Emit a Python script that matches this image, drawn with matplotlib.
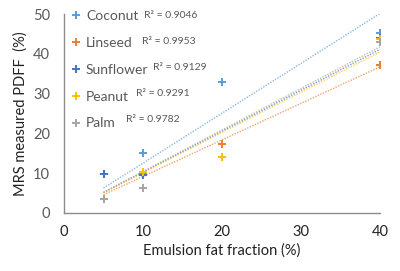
import numpy as np
import matplotlib
matplotlib.use("Agg")
import matplotlib.pyplot as plt

# emulsion fat fraction (%)
fat = np.array([5, 10, 20, 40])

names = ['Coconut', 'Linseed', 'Sunflower', 'Peanut', 'Palm']
coconut = [9.8, 15.0, 32.8, 45.2]
linseed = [3.5, 10.0, 17.3, 37.2]
sunflower = [9.8, 9.5, 14.0, 44.0]
peanut = [3.5, 10.3, 14.1, 43.7]
palm = [3.5, 6.3, np.nan, 43.0]
r2 = ['0.9046', '0.9953', '0.9129', '0.9291', '0.9782']
colors = ['#5B9BD5', '#ED7D31', '#4472C4', '#FFC000', '#A5A5A5']

plt.rcParams['font.family'] = ['Lato', 'DejaVu Sans']

fig = plt.figure(figsize=(4, 2.71), dpi=100)
ax = fig.add_axes([64/400, 1-213/271, (380-64)/400, (213-14)/271])

series = [coconut, linseed, sunflower, peanut, palm]

# trendlines (through origin, Excel style), drawn under markers
for vals, c in zip(series, colors):
    y = np.array(vals, dtype=float)
    ok = ~np.isnan(y)
    slope = np.sum(fat[ok]*y[ok]) / np.sum(fat[ok]**2)
    xs = np.array([fat[ok].min(), fat[ok].max()])
    ax.plot(xs, slope*xs, ls=(0, (1, 1)), lw=1.0, color=c, alpha=0.7, zorder=2)

for name, vals, c in zip(names, series, colors):
    ax.plot(fat, vals, ls='none', marker='+', ms=6, mew=1.4, color=c,
            label=name, zorder=3)

ax.set_xlim(0, 40)
ax.set_ylim(0, 50)
ax.set_xticks([0, 10, 20, 30, 40])
ax.set_yticks([0, 10, 20, 30, 40, 50])
ax.tick_params(length=0, labelsize=10.5)
ax.tick_params(axis='y', labelcolor='#595959', pad=10)
ax.tick_params(axis='x', labelcolor='#222222', pad=9)
for s in ['top', 'right']:
    ax.spines[s].set_visible(False)
for s in ['left', 'bottom']:
    ax.spines[s].set_color('#8c8c8c')
    ax.spines[s].set_linewidth(1.0)

ax.set_xlabel('Emulsion fat fraction (%)', fontsize=10.5, color='#222222', labelpad=3)
ax.set_ylabel('MRS measured PDFF  (%)', fontsize=10.5, color='#222222', labelpad=4)

leg = ax.legend(loc='upper left', bbox_to_anchor=(72/400, 1-10/271),
                bbox_transform=fig.transFigure, frameon=False, fontsize=10,
                handlelength=0.6, handletextpad=0.4, labelspacing=1.07,
                borderaxespad=0, borderpad=0)
for t in leg.get_texts():
    t.set_color('#595959')

r2_pos = [(144, 16), (142, 42), (153, 67), (136, 94), (126, 120)]
for (px, py), v in zip(r2_pos, r2):
    fig.text(px/400, 1-py/271, 'R² = ' + v, fontsize=7.5, color='#595959',
             va='center', ha='left')

fig.savefig('out.png', dpi=100)
